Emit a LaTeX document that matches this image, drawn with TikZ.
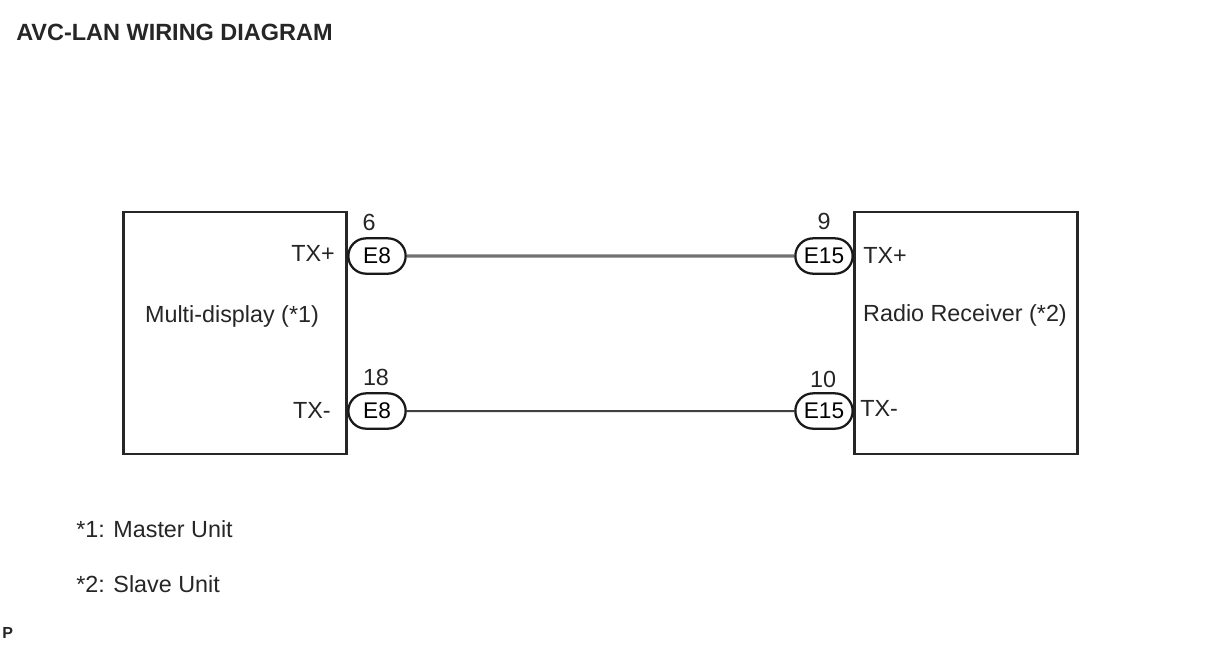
\documentclass[tikz,border=0pt]{standalone}
\usepackage{fontspec}
\setmainfont{Liberation Sans}
\usetikzlibrary{positioning,shapes.misc}
\tikzset{
  unitbox/.style={draw=black!85,line width=2pt,minimum width=167.5pt,minimum height=181.5pt,inner sep=0pt},
  plug/.style={draw=black!90,line width=1.7pt,rounded rectangle,minimum width=43pt,minimum height=26.5pt,inner sep=0pt,font=\fontsize{17}{20}\selectfont},
  lbl/.style={inner sep=0pt,font=\fontsize{17.5}{20}\selectfont,text=black!85},
  wire/.style={line width=1.5pt,draw=black!75},
  widewire/.style={line width=2.4pt,draw=black!55}
}
\begin{document}
\begin{tikzpicture}[x=0.75pt,y=-0.75pt]
\useasboundingbox[fill=white] (0,0) rectangle (1208,644);
\node[lbl,anchor=west,font=\bfseries\fontsize{17.6}{20}\selectfont] (title) at (16,32) {AVC-LAN WIRING DIAGRAM};
\node[unitbox] (display) at (235,333) {};
\node[unitbox] (radio) at (966,333) {};
\node[lbl] (dispname) at (232,316) {Multi-display (*1)};
\node[lbl] (radname) at (965,315) {Radio Receiver (*2)};
\node[plug] (e8a) at (377,256) {E8};
\node[plug] (e8b) at (377,411) {E8};
\node[plug] (e15a) at (824,256) {E15};
\node[plug] (e15b) at (824,411) {E15};
\draw[widewire] (e8a) -- (e15a);
\draw[wire] (e8b) -- (e15b);
\node[lbl,anchor=east] (txpa) at (335,253) {TX+};
\node[lbl,anchor=east] (txma) at (331,410) {TX-};
\node[lbl,anchor=west] (txpb) at (863,255) {TX+};
\node[lbl,anchor=west] (txmb) at (860,408) {TX-};
\node[lbl] (pin6) at (369,222) {6};
\node[lbl] (pin18) at (376,377) {18};
\node[lbl] (pin9) at (824,221) {9};
\node[lbl] (pin10) at (823,379) {10};
\node[lbl,anchor=west] (note1) at (76,529) {*1: Master Unit};
\node[lbl,anchor=west] (note2) at (76,584) {*2: Slave Unit};
\node[lbl,anchor=west,font=\bfseries\fontsize{12}{14}\selectfont] (mark) at (2,633) {P};
\end{tikzpicture}
\end{document}
